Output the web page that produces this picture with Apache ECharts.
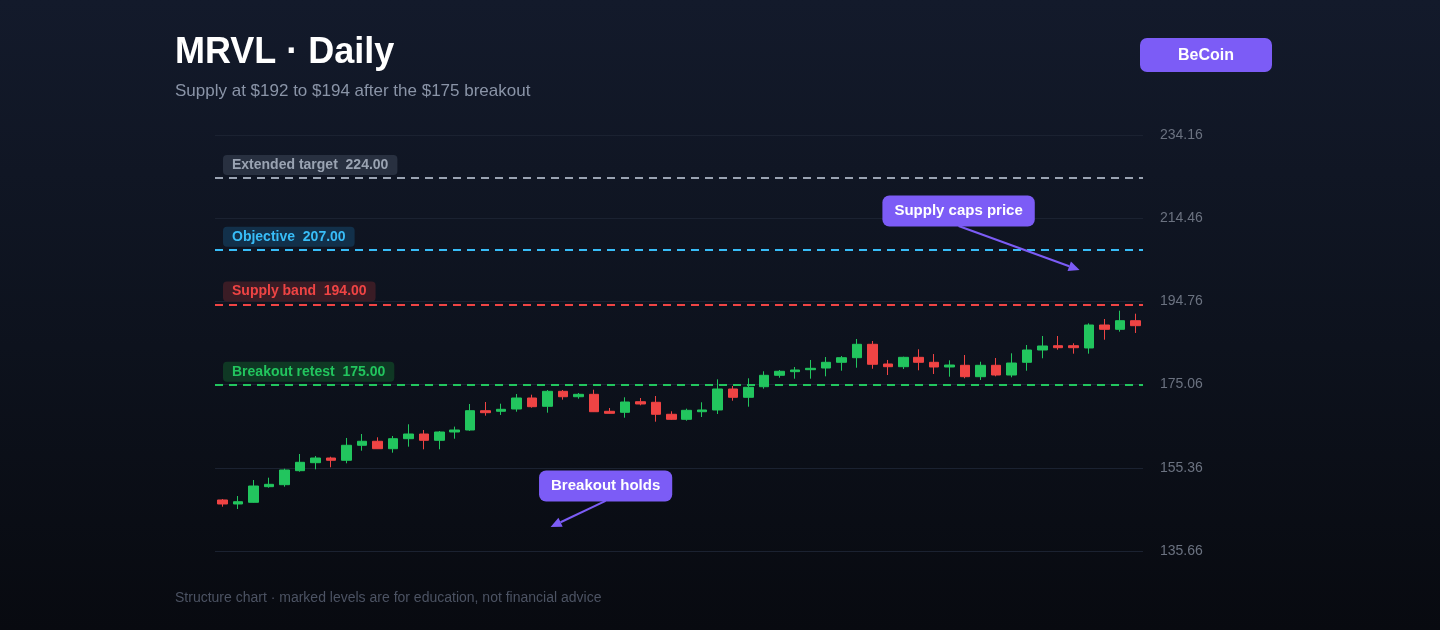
<!DOCTYPE html>
<html><head><meta charset="utf-8">
<script src="https://cdn.jsdelivr.net/npm/echarts@6/dist/echarts.min.js"></script>
<style>
html,body{margin:0;padding:0;width:1440px;height:630px;overflow:hidden;background:linear-gradient(180deg,#131a2b 0%,#0d121d 55%,#080a10 100%);}
#c{width:1440px;height:630px}
</style>
</head><body><div id="c"></div>
<script>
// ---- data ----
const categories = Array.from({length: 60}, (_, i) => 'D' + (i + 1));
const opens  = [147.74,146.79,147.19,150.89,151.36,154.68,156.57,157.68,157.14,160.69,161.64,159.88,162.25,163.36,161.87,163.84,164.31,168.88,168.74,169.28,171.89,169.92,173.47,172.19,172.76,168.74,168.50,171.01,170.87,168.03,166.84,168.64,169.05,174.02,172.05,174.56,177.26,178.12,178.59,178.99,180.34,181.43,184.60,179.94,179.30,181.52,180.34,179.23,179.63,176.93,179.63,177.33,180.34,183.25,184.27,184.27,183.73,189.17,188.15,190.19];
const closes = [146.79,147.33,151.05,151.45,154.84,156.66,157.68,157.14,160.69,161.64,159.88,162.25,163.36,161.87,163.84,164.31,168.88,168.41,169.21,171.89,169.83,173.47,172.19,172.76,168.64,168.26,170.94,170.47,168.03,166.84,168.97,169.05,174.02,172.05,174.42,177.26,178.21,178.52,178.92,180.34,181.43,184.60,179.87,179.30,181.52,180.34,179.23,179.70,176.93,179.63,177.33,180.17,183.25,184.20,183.80,183.80,189.17,188.15,190.19,189.01];
const lows   = [146.15,145.60,147.10,150.65,150.89,154.44,155.00,155.48,156.43,159.41,159.81,158.94,160.36,159.74,159.74,162.25,164.10,167.70,167.87,168.64,169.59,168.41,171.49,171.72,168.57,168.20,167.22,170.16,166.28,166.68,166.51,167.39,168.10,171.25,169.83,174.09,176.69,176.46,176.46,177.02,178.35,179.06,178.82,177.33,178.75,178.45,177.57,176.93,176.55,176.15,177.02,176.79,178.35,181.29,183.32,182.38,182.38,185.69,187.59,187.28];
const highs  = [147.97,148.68,152.47,153.02,155.15,158.63,158.15,157.99,162.42,163.36,162.58,162.89,165.66,164.31,164.07,165.11,170.47,170.94,170.54,172.83,172.67,173.78,173.78,173.07,173.85,169.52,172.05,171.89,172.36,168.74,169.36,170.87,176.31,174.73,176.55,178.21,178.52,179.23,180.89,181.59,181.83,185.86,185.38,180.89,181.67,183.42,182.30,180.81,182.07,180.48,181.36,182.47,184.44,186.57,186.57,184.84,189.57,190.59,192.56,191.85];

const yTickLabels = ['135.66','155.36','175.06','194.76','214.46','234.16'];

const levelNames  = ['Extended target','Objective','Supply band','Breakout retest'];
const levelValues = [224, 207, 194, 175];
const levelColors = ['#9aa3b2','#38bdf8','#ef4444','#22c55e'];
const levelLabelBg = ['#283040','#12304a','#3a1c25','#0f3824'];

const annotationTexts = ['Supply caps price','Breakout holds'];
const annotationIndex = [55.4, 21.2];
const annotationPrice = [202.2, 141.35];
const annotationBoxOffset = [[-121,-59],[55,-41]];

// ---- chart ----
const FONT = '"Liberation Sans", Arial, sans-serif';
const yMin = parseFloat(yTickLabels[0]);
const yMax = parseFloat(yTickLabels[yTickLabels.length-1]);
const yStep = (yMax - yMin) / (yTickLabels.length - 1);

const ohlc = categories.map((c, i) => [opens[i], closes[i], lows[i], highs[i]]);

const chart = echarts.init(document.getElementById('c'), null, {renderer: 'canvas'});
chart.setOption({
  backgroundColor: 'transparent',
  animation: false,
  title: [
    {text: 'MRVL · Daily', left: 175, top: 35, padding: 0, textStyle: {color: '#ffffff', fontSize: 36, fontWeight: 'bold', fontFamily: FONT}},
    {text: 'Supply at $192 to $194 after the $175 breakout', left: 175, top: 83, padding: 0, textStyle: {color: '#8a94a7', fontSize: 17, fontWeight: 'normal', fontFamily: FONT}}
  ],
  grid: {left: 215, right: 297, top: 135, bottom: 79},
  xAxis: {
    type: 'category', data: categories, boundaryGap: true,
    axisLine: {show: false}, axisTick: {show: false}, axisLabel: {show: false}, splitLine: {show: false}
  },
  yAxis: {
    type: 'value', position: 'right', min: yMin, max: yMax, interval: yStep, scale: true,
    axisLine: {show: false}, axisTick: {show: false},
    axisLabel: {color: '#6b7280', fontSize: 14, fontFamily: FONT, margin: 17, padding: [4, 0, 0, 0], formatter: v => v.toFixed(2)},
    splitLine: {lineStyle: {color: '#1b2231', width: 1}}
  },
  series: [{
    type: 'candlestick',
    data: ohlc,
    barWidth: 10,
    itemStyle: {color: '#22c55e', color0: '#ef4444', borderColor: '#22c55e', borderColor0: '#ef4444', borderWidth: 1},
    markLine: {
      silent: true, symbol: ['none','none'],
      data: levelValues.map((v, i) => ({
        yAxis: v, name: levelNames[i],
        lineStyle: {color: levelColors[i], type: [8,6], width: 2},
        label: {
          show: true, position: 'insideStartTop', distance: [8, 3],
          formatter: levelNames[i] + '  ' + v.toFixed(2),
          color: levelColors[i], backgroundColor: levelLabelBg[i],
          fontSize: 14, fontWeight: 'bold', fontFamily: FONT,
          padding: [3, 9], borderRadius: 4
        }
      }))
    }
  }]
});

function dataToPixel(idx, price) {
  const i0 = Math.floor(idx), f = idx - i0;
  const p0 = chart.convertToPixel({xAxisIndex: 0, yAxisIndex: 0}, [i0, price]);
  const p1 = chart.convertToPixel({xAxisIndex: 0, yAxisIndex: 0}, [i0 + 1, price]);
  return [p0[0] + (p1[0] - p0[0]) * f, p0[1]];
}

const graphics = [];
// brand button
graphics.push({
  type: 'group', left: 1140, top: 38, children: [
    {type: 'rect', shape: {x: 0, y: 0, width: 132, height: 34, r: 7}, style: {fill: '#7c5cf6'}},
    {type: 'text', x: 66, y: 18, style: {text: 'BeCoin', fill: '#ffffff', font: 'bold 16px ' + FONT, align: 'center', verticalAlign: 'middle'}}
  ]
});
// footer
graphics.push({type: 'text', left: 175, top: 591, style: {text: 'Structure chart · marked levels are for education, not financial advice', fill: '#4c5363', font: '14px ' + FONT}});

annotationTexts.forEach((t, k) => {
  const tip = dataToPixel(annotationIndex[k], annotationPrice[k]);
  const cx = tip[0] + annotationBoxOffset[k][0];
  const cy = tip[1] + annotationBoxOffset[k][1];
  const sx = cx, sy = cy + 15;
  const dx = tip[0] - sx, dy = tip[1] - sy;
  const len = Math.sqrt(dx*dx + dy*dy);
  const ux = dx/len, uy = dy/len;
  const bx = tip[0] - ux*11, by = tip[1] - uy*11;
  const px = -uy, py = ux;
  graphics.push({type: 'line', shape: {x1: sx, y1: sy, x2: bx, y2: by}, style: {stroke: '#7c5cf6', lineWidth: 2}, z: 10});
  graphics.push({type: 'polygon', shape: {points: [[tip[0], tip[1]], [bx + px*5, by + py*5], [bx - px*5, by - py*5]]}, style: {fill: '#7c5cf6'}, z: 10});
  graphics.push({type: 'text', x: cx, y: cy, z: 11, style: {
    text: t, fill: '#ffffff', font: 'bold 15px ' + FONT, align: 'center', verticalAlign: 'middle',
    backgroundColor: '#7c5cf6', padding: [8, 12], borderRadius: 7
  }});
});

chart.setOption({graphic: graphics});
</script>
</body></html>
